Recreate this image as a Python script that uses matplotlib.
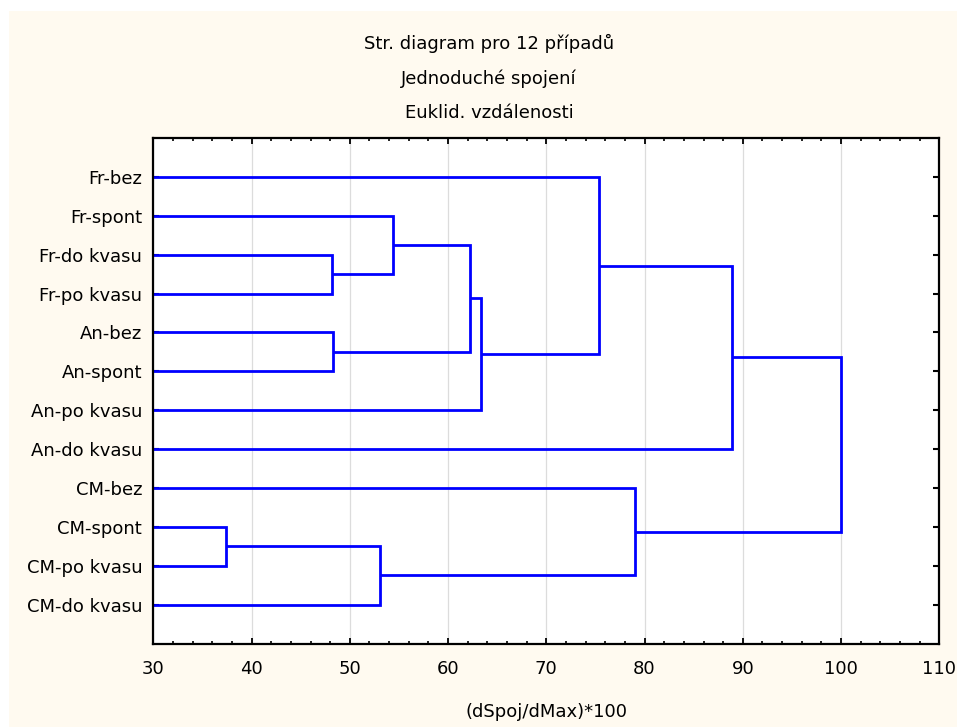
import matplotlib
matplotlib.use("Agg")
import matplotlib.pyplot as plt
from matplotlib.patches import Rectangle
from matplotlib.ticker import MultipleLocator

# ---- data ----
leaf_labels = ["Fr-bez", "Fr-spont", "Fr-do kvasu", "Fr-po kvasu",
               "An-bez", "An-spont", "An-po kvasu", "An-do kvasu",
               "CM-bez", "CM-spont", "CM-po kvasu", "CM-do kvasu"]
# merges: (cluster_a, cluster_b, linkage distance); new clusters numbered 12, 13, ...
merge_a = [2, 4, 1, 14, 15, 0, 17, 9, 19, 8, 18]
merge_b = [3, 5, 12, 13, 6, 16, 7, 10, 11, 20, 21]
merge_h = [48.15, 48.3, 54.4, 62.2, 63.4, 75.35, 88.9, 37.45, 53.05, 79.0, 100.0]

title_lines = ["Str. diagram pro 12 případů", "Jednoduché spojení", "Euklid. vzdálenosti"]
x_label = "(dSpoj/dMax)*100"
x_min, x_max, x_step = 30, 110, 10

# ---- figure ----
W, H = 957, 727
fig = plt.figure(figsize=(W / 100, H / 100), dpi=100, facecolor="white")
fig.patches.append(Rectangle((9 / W, 0), 1 - 9 / W, (H - 11) / H,
                             transform=fig.transFigure, facecolor="#FFFAF0",
                             edgecolor="none", zorder=-10))

ax = fig.add_axes([153.3 / W, (H - 643.5) / H, (939.3 - 153.3) / W, (643.5 - 138) / H])
ax.set_facecolor("white")

font = dict(family="DejaVu Sans", size=13)

# positions
n = len(leaf_labels)
pos_y = {i: i + 1 for i in range(n)}
pos_h = {i: x_min for i in range(n)}
for k, (a, b, h) in enumerate(zip(merge_a, merge_b, merge_h)):
    cid = n + k
    ya, yb = pos_y[a], pos_y[b]
    ax.plot([pos_h[a], h, h, pos_h[b]], [ya, ya, yb, yb], color="#0000FF",
            lw=2.0, solid_joinstyle="miter", solid_capstyle="butt", zorder=3,
            clip_on=False)
    pos_y[cid] = (ya + yb) / 2
    pos_h[cid] = h

ax.set_xlim(x_min, x_max)
ax.set_ylim(n + 1, 0)
ax.set_yticks(range(1, n + 1))
ax.set_yticklabels(leaf_labels, **font)
ax.xaxis.set_major_locator(MultipleLocator(x_step))
ax.xaxis.set_minor_locator(MultipleLocator(2))
for lab in ax.get_xticklabels():
    lab.set_fontfamily("DejaVu Sans")
    lab.set_fontsize(13)

ax.tick_params(axis="y", which="major", direction="in", left=True, right=True,
               length=4, width=1.5, pad=8, colors="black")
ax.tick_params(axis="x", which="major", direction="in", bottom=True, top=True,
               length=4, width=1.3, pad=12, labelsize=13)
ax.tick_params(axis="x", which="minor", direction="in", bottom=True, top=True,
               length=2, width=1.2)
ax.grid(axis="x", which="major", color="#DCDCDC", lw=0.9, zorder=0)
ax.set_axisbelow(True)
for s in ax.spines.values():
    s.set_linewidth(1.6)
    s.set_color("black")
    s.set_zorder(4)

# titles
for i, t in enumerate(title_lines):
    fig.text(489 / W, 1 - (49.3 + 34.5 * i) / H, t, ha="center", va="baseline", **font)
fig.text((153.3 + 939.3) / 2 / W, 1 - 717 / H, x_label, ha="center", va="baseline", **font)

fig.savefig("out.png", dpi=100, facecolor=fig.get_facecolor())
